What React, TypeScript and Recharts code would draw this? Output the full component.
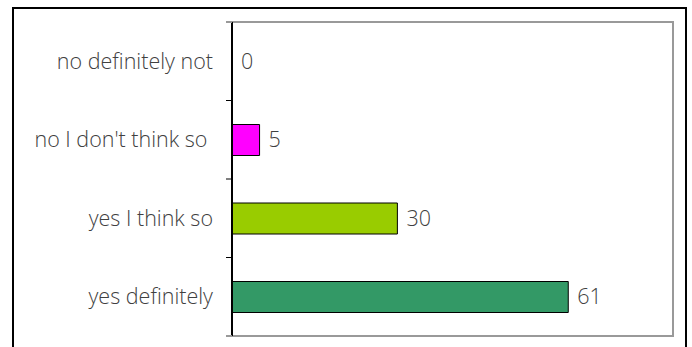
import React from "react";
import { ComposedChart, Bar, Line, XAxis, YAxis, Cell, LabelList, ReferenceArea } from "recharts";

const categories = ["no definitely not", "no I don't think so\u00A0", "yes I think so", "yes definitely"];
const values = [0, 5, 30, 61];
const colors = ["#FF00FF", "#FF00FF", "#99CC00", "#339966"];
const xTicks = [0, 80];

const data = categories.map((c, i) => ({ name: c, value: values[i] }));

const FONT = "'Open Sans', sans-serif";
const FONT_SIZE = 21.5;
const TICK_SIZE = 6;
const TICK_MARGIN = 13;
const MARGIN = { top: 22, right: 19, bottom: 11, left: 0 };
const HEIGHT = 347;

function CategoryTick(props: any) {
  const { x, y, payload, index, visibleTicksCount } = props;
  const half =
    payload && typeof payload.offset === "number" && payload.offset > 0
      ? payload.offset
      : (HEIGHT - MARGIN.top - MARGIN.bottom) / categories.length / 2;
  const lx1 = x + TICK_MARGIN;
  const lx2 = lx1 + TICK_SIZE;
  const first = index === 0;
  const last = index === (visibleTicksCount ?? categories.length) - 1;
  return (
    <g>
      <line
        x1={lx1}
        x2={lx2}
        y1={y - half}
        y2={y - half}
        stroke={first ? "#999" : "#000"}
        strokeWidth={first ? 2 : 1}
      />
      {last && <line x1={lx1} x2={lx2} y1={y + half} y2={y + half} stroke="#999" strokeWidth={2} />}
      <text
        x={x}
        y={y}
        dy="0.355em"
        textAnchor="end"
        fill="#404040"
        fontSize={FONT_SIZE}
        fontFamily={FONT}
        fontWeight={300}
      >
        {payload.value}
      </text>
    </g>
  );
}

export default function App() {
  return (
    <div style={{ position: "absolute", left: 0, top: 0, width: 692, height: 347, overflow: "hidden", background: "#fff" }}>
      <div style={{ position: "absolute", left: 12, top: 7, width: 671, height: 400, border: "2px solid #000" }} />
      <div style={{ position: "absolute", left: 0, top: 0 }}>
        <ComposedChart
          width={692}
          height={HEIGHT}
          data={data}
          layout="vertical"
          margin={MARGIN}
          barSize={31}
        >
          <XAxis type="number" domain={[xTicks[0], xTicks[1]]} hide />
          <ReferenceArea x1={xTicks[0]} x2={xTicks[1]} fill="none" stroke="#999" strokeWidth={2} ifOverflow="visible" />
          <YAxis
            type="category"
            dataKey="name"
            width={232}
            axisLine={{ stroke: "#000", strokeWidth: 2 }}
            tickLine={false}
            tickSize={TICK_SIZE}
            tickMargin={TICK_MARGIN}
            tick={<CategoryTick />}
            interval={0}
          />
          <Bar dataKey="value" stroke="#000" strokeWidth={1} isAnimationActive={false}>
            {data.map((d, i) => (
              <Cell key={i} fill={colors[i]} />
            ))}
          </Bar>
          <Line dataKey="value" stroke="none" dot={false} activeDot={false} isAnimationActive={false}>
            <LabelList dataKey="value" position="right" offset={9} fill="#404040" fontSize={FONT_SIZE} fontFamily={FONT} fontWeight={300} />
          </Line>
        </ComposedChart>
      </div>
    </div>
  );
}
